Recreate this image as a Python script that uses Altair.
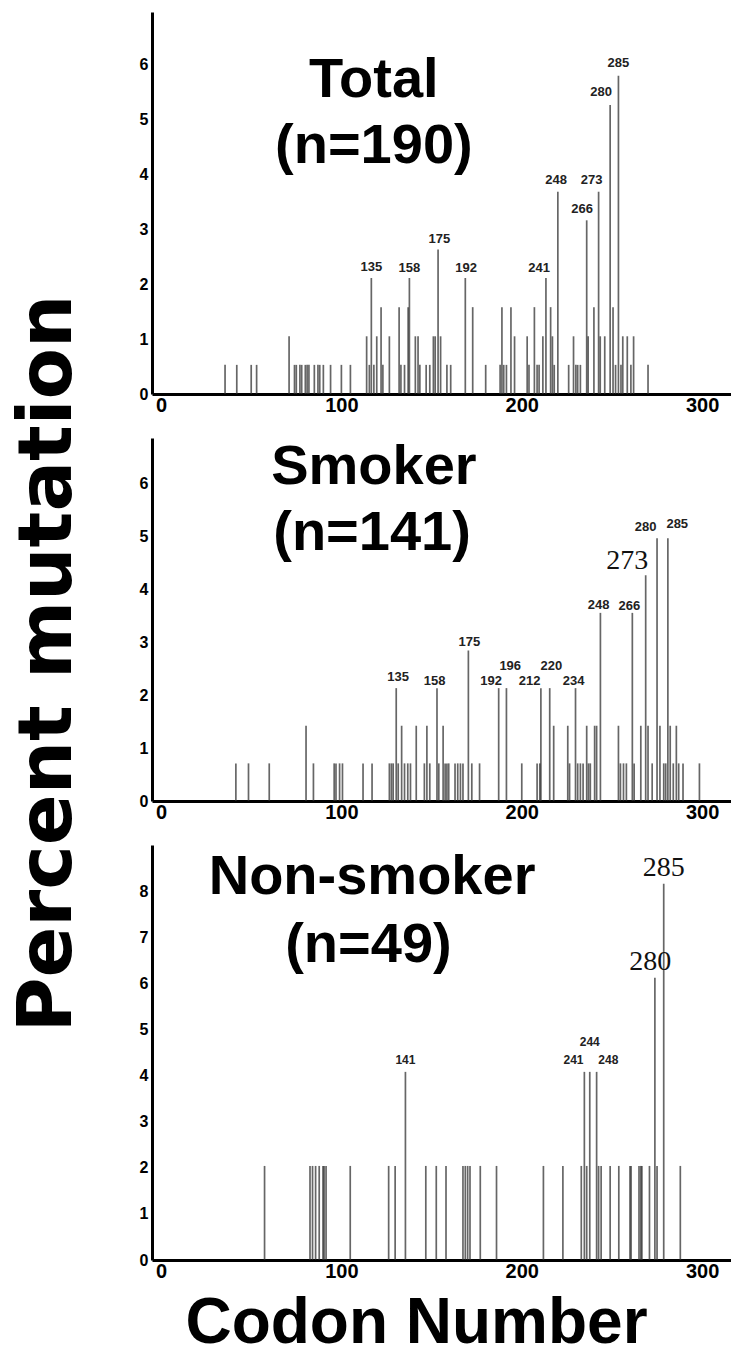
import altair as alt
import pandas as pd

# ---------------- data ----------------
codon_ticks = [0, 100, 200, 300]

# Total (n=190)
total_codon = [35.5, 42, 50, 53, 71, 74, 75, 77, 78, 80, 81, 82, 85, 87, 88, 90, 94, 100, 105,
               114, 115.5, 116.6, 118, 119.6, 122, 123, 126.6, 132, 133, 135, 137, 137.7, 141, 142.5,
               143.5, 147, 149, 151, 152, 153.6, 155, 158.5, 160.6, 168.7, 172.8, 180, 188, 189, 190,
               191.5, 194, 196, 203, 204, 207, 208.5, 209.6, 211.7, 213.4, 216, 217, 218, 220, 226,
               228.7, 230, 231, 232.5, 236, 236.8, 240, 242.6, 243.5, 246, 249, 250.6, 252, 253.6,
               255, 256, 258.5, 260.5, 262, 270]
total_pct = [0.53, 0.53, 0.53, 0.53, 1.05, 0.53, 0.53, 0.53, 0.53, 0.53, 0.53, 0.53, 0.53, 0.53, 0.53, 0.53, 0.53, 0.53, 0.53,
             1.05, 0.53, 2.11, 0.53, 1.05, 1.58, 0.53, 1.05, 1.58, 0.53, 0.53, 1.58, 2.11, 1.05, 1.05,
             0.53, 0.53, 0.53, 1.05, 1.05, 2.63, 1.05, 0.53, 0.53, 2.11, 1.58, 0.53, 0.53, 1.58, 0.53,
             0.53, 1.58, 1.05, 1.05, 0.53, 1.58, 0.53, 0.53, 1.05, 2.11, 1.58, 1.05, 0.53, 3.68, 0.53,
             1.05, 0.53, 0.53, 0.53, 3.16, 1.05, 1.58, 3.68, 1.05, 1.05, 5.26, 1.58, 0.53, 5.79,
             0.53, 1.05, 1.05, 0.53, 1.05, 0.53]
total_lab_text = ["135", "158", "175", "192", "241", "248", "266", "273", "280", "285"]
total_lab_x = [116.6, 137.7, 154.3, 169.1, 209.6, 219.1, 233.4, 238.7, 244.0, 253.6]
total_lab_y = [2.2, 2.18, 2.71, 2.18, 2.18, 3.79, 3.25, 3.79, 5.39, 5.92]

# Smoker (n=141)
smoker_codon = [41.5, 48.5, 60, 80.4, 84.5, 96, 97, 99, 100.6, 112, 117, 126.6, 127.7, 128.7, 130.4,
                131.5, 133.4, 135, 136.8, 138.3, 141.5, 146, 147.4, 149, 153, 154, 156.4, 157.5, 158.5,
                159.5, 163, 164.5, 166, 167.4, 170.4, 172.3, 176.6, 187.2, 191.5, 200, 208.5, 210,
                210.6, 215.5, 217.7, 225.5, 226.5, 229.8, 231, 232.5, 234, 236, 237, 238, 240.4, 241.5,
                243.6, 253.6, 254.7, 256.4, 258, 261.3, 262.3, 266, 268.7, 270, 272.3, 275, 276.6, 278.7,
                279.8, 281, 282.3, 284, 285.7, 287, 289.4, 298.5]
smoker_pct = [0.71, 0.71, 0.71, 1.42, 0.71, 0.71, 0.71, 0.71, 0.71, 0.71, 0.71, 0.71, 0.71, 0.71, 2.13,
              0.71, 1.42, 0.71, 0.71, 0.71, 1.42, 0.71, 1.42, 0.71, 2.13, 0.71, 1.42, 0.71, 0.71,
              0.71, 0.71, 0.71, 0.71, 0.71, 2.84, 0.71, 0.71, 2.13, 2.13, 0.71, 0.71, 0.71,
              2.13, 2.13, 1.42, 1.42, 0.71, 2.13, 0.71, 0.71, 0.71, 1.42, 0.71, 0.71, 1.42, 1.42,
              3.55, 1.42, 0.71, 0.71, 0.71, 3.55, 0.71, 1.42, 4.26, 1.42, 0.71, 4.96, 1.42, 0.71,
              0.71, 4.96, 1.42, 0.71, 1.42, 0.71, 0.71, 0.71]
smoker_lab_text = ["135", "158", "175", "192", "196", "212", "220", "234", "248", "266", "280", "285"]
smoker_lab_x = [131.5, 151.7, 170.9, 183.0, 193.6, 204.3, 216.4, 228.7, 242.6, 259.6, 268.7, 286.2]
smoker_lab_y = [2.22, 2.15, 2.88, 2.16, 2.44, 2.16, 2.44, 2.16, 3.59, 3.57, 5.05, 5.11]
smoker_big_text = ["273"]
smoker_big_x = [258.5]
smoker_big_y = [4.38]

# Non-smoker (n=49)
non_codon = [57.4, 82.6, 84, 85.7, 87.7, 89.8, 90.4, 91.5, 104.9, 126.2, 129.8, 135.5, 146.8, 152.6,
             158, 167.4, 168.7, 170, 171.3, 177, 186, 212, 222.8, 233, 234.7, 236, 237.7, 241.5,
             242.6, 244, 249, 253.8, 260, 260.6, 265, 266, 266.6, 270.8, 273.8, 275, 278.7, 287.9]
non_pct = [2.04, 2.04, 2.04, 2.04, 2.04, 2.04, 2.04, 2.04, 2.04, 2.04, 2.04, 4.08, 2.04, 2.04,
           2.04, 2.04, 2.04, 2.04, 2.04, 2.04, 2.04, 2.04, 2.04, 2.04, 4.08, 2.04, 4.08, 4.08,
           2.04, 2.04, 2.04, 2.04, 2.04, 2.04, 2.04, 2.04, 2.04, 2.04, 6.12, 2.04, 8.16, 2.04]
non_lab_text = ["141", "241", "244", "248"]
non_lab_x = [135.5, 228.7, 237.7, 248.0]
non_lab_y = [4.2, 4.2, 4.6, 4.2]
non_big_text = ["280", "285"]
non_big_x = [271.3, 278.7]
non_big_y = [6.3, 8.33]

panel_titles = [["Total", "(n=190)"], ["Smoker", "(n=141)"], ["Non-smoker", "(n=49)"]]
title_x = [[118, 118], [118, 117], [117, 115]]
title_y = [[5.4, 4.2], [5.98, 4.74], [7.93, 6.46]]

FONT = "Liberation Sans"
WIDTH = 579


def panel(codons, pcts, ymax, yticks, height, lab_t, lab_x, lab_y, lab_size,
          big_t, big_x, big_y, ttl, tx, ty, x_title=None):
    extra = {}
    if x_title:
        extra = dict(titleFontSize=64, titleFont=FONT, titleFontWeight="bold", titleX=264,
                     titleY=82, titleAlign="center", titleBaseline="alphabetic",
                     titleColor="black")
    x_axis = alt.Axis(values=codon_ticks, labelFontSize=20, labelPadding=1,
                      title=x_title if x_title else None, **extra)
    x = alt.X("codon:Q", scale=alt.Scale(domain=[-5, 316], nice=False, zero=False), axis=x_axis)
    y = alt.Y("pct:Q", scale=alt.Scale(domain=[0, ymax], nice=False),
              axis=alt.Axis(values=yticks, labelFontSize=16, title=None, labelPadding=4))

    bars = alt.Chart(pd.DataFrame({"codon": codons, "pct": pcts})).mark_rule(
        strokeWidth=1.7, color="#2b2b2b", opacity=0.72
    ).encode(x=x, y=y, y2=alt.datum(0))

    labs = alt.Chart(pd.DataFrame({"codon": lab_x, "pct": lab_y, "t": lab_t})).mark_text(
        font=FONT, fontWeight="bold", fontSize=lab_size, baseline="alphabetic", align="center",
        color="#222", dy=-2
    ).encode(x=x, y=y, text="t:N")

    layers = [bars, labs]
    if big_t:
        big = alt.Chart(pd.DataFrame({"codon": big_x, "pct": big_y, "t": big_t})).mark_text(
            font="Liberation Serif", fontSize=28, baseline="alphabetic", align="center", color="#111"
        ).encode(x=x, y=y, text="t:N")
        layers.append(big)

    tdf = pd.DataFrame({"codon": tx, "pct": ty, "t": ttl})
    titles = alt.Chart(tdf).mark_text(
        font=FONT, fontWeight="bold", fontSize=56, baseline="alphabetic", align="center", color="black"
    ).encode(x=x, y=y, text="t:N")
    layers.append(titles)

    return alt.layer(*layers).properties(width=WIDTH, height=height)


p1 = panel(total_codon, total_pct, 6.95, [0, 1, 2, 3, 4, 5, 6], 382,
           total_lab_text, total_lab_x, total_lab_y, 13, [], [], [],
           panel_titles[0], title_x[0], title_y[0])
p2 = panel(smoker_codon, smoker_pct, 6.85, [0, 1, 2, 3, 4, 5, 6], 363,
           smoker_lab_text, smoker_lab_x, smoker_lab_y, 13, smoker_big_text, smoker_big_x, smoker_big_y,
           panel_titles[1], title_x[1], title_y[1])
p3 = panel(non_codon, non_pct, 9.0, [0, 1, 2, 3, 4, 5, 6, 7, 8], 415,
           non_lab_text, non_lab_x, non_lab_y, 12, non_big_text, non_big_x, non_big_y,
           panel_titles[2], title_x[2], title_y[2], x_title="Codon Number")

chart = alt.vconcat(p1, p2, p3, spacing=23).resolve_scale(y="independent").properties(
    title=alt.TitleParams("Percent mutation", orient="left", anchor="middle", fontSize=75,
                          font="DejaVu Sans", fontWeight="bold", color="black", offset=52, dx=20),
    padding={"left": 3, "top": 4, "right": 0, "bottom": 0},
).configure_view(stroke=None).configure_axis(
    domainColor="black", domainWidth=3, ticks=False, grid=False,
    labelFont=FONT, labelFontWeight="bold", labelColor="black"
)

chart.save("out.html", embed_options={"renderer": "svg", "actions": False})
